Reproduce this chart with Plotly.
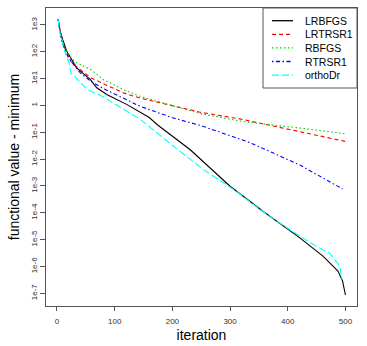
import plotly.graph_objects as go

# iteration / functional value - minimum
lrbfgs_it = [2, 5, 10, 17, 34, 58, 69, 87, 120, 145, 160, 174, 231, 300, 357, 421, 461, 487, 495, 500]
lrbfgs_val = [1660, 631, 282, 105, 25.1, 9.12, 4.57, 2.51, 1.12, 0.525, 0.355, 0.191, 0.0224,
              9.77e-4, 1.15e-4, 1.17e-5, 2.45e-6, 6.76e-7, 2.88e-7, 8.71e-8]

lrtrsr1_it = [2, 10, 24, 40, 59, 116, 145, 231, 248, 317, 334, 421, 500]
lrtrsr1_val = [1585, 200, 43.7, 21.9, 10.5, 2.88, 1.86, 0.692, 0.562, 0.316, 0.263, 0.107, 0.0457]

rbfgs_it = [2, 8, 15, 22, 30, 59, 80, 116, 145, 231, 248, 317, 334, 421, 498]
rbfgs_val = [1660, 316, 126, 70.8, 43.7, 21.4, 9.33, 3.80, 2.14, 0.603, 0.501, 0.263, 0.234, 0.145, 0.0891]

rtrsr1_it = [2, 8, 20, 40, 59, 83, 145, 202, 248, 317, 334, 357, 421, 495]
rtrsr1_val = [1585, 251, 58.9, 16.6, 7.76, 3.98, 0.912, 0.339, 0.182, 0.0562, 0.0417, 0.0251, 6.03e-3, 7.76e-4]

orthodr_it = [2, 5, 9, 15, 21, 24, 30, 52, 80, 145, 202, 254, 311, 352, 403, 449, 472, 490, 494]
orthodr_val = [1585, 501, 245, 79.4, 39.8, 15.8, 12.6, 3.98, 2.09, 0.295, 0.0302, 4.07e-3, 6.31e-4,
               1.32e-4, 2.40e-5, 5.75e-6, 3.24e-6, 1.05e-6, 3.31e-7]

# R line types: solid, dashed, dotted, dotdash, longdash
series = [
    ("LRBFGS", lrbfgs_it, lrbfgs_val, "black", "solid"),
    ("LRTRSR1", lrtrsr1_it, lrtrsr1_val, "#FF0000", "4px,3px"),
    ("RBFGS", rbfgs_it, rbfgs_val, "#00CD00", "1.5px,2.5px"),
    ("RTRSR1", rtrsr1_it, rtrsr1_val, "#0000FF", "1.5px,2.5px,4px,2.5px"),
    ("orthoDr", orthodr_it, orthodr_val, "#00FFFF", "7px,3px"),
]

ytick_vals = [1e3, 1e2, 1e1, 1, 1e-1, 1e-2, 1e-3, 1e-4, 1e-5, 1e-6, 1e-7]
ytick_text = ["1e3", "1e2", "1e1", "1", "1e-1", "1e-2", "1e-3", "1e-4", "1e-5", "1e-6", "1e-7"]
xtick_vals = [0, 100, 200, 300, 400, 500]

W, H = 367, 346
L, R, T, B = 46, 10, 8, 40
pw, ph = W - L - R, H - T - B

def px(x):   # pixel -> paper x
    return (x - L) / pw

def py(y):   # pixel -> paper y
    return (H - B - y) / ph

fig = go.Figure()
for name, it, val, col, dash in series:
    fig.add_trace(go.Scatter(x=it, y=val, mode="lines", name=name, showlegend=False,
                             line=dict(color=col, width=1.1, dash=dash)))

# legend drawn by hand, R style (compact box in the top right corner)
fig.add_shape(type="rect", xref="paper", yref="paper",
              x0=px(263), x1=1, y0=py(88), y1=1,
              line=dict(color="#555", width=1), fillcolor="white", layer="above")
for i, (name, it, val, col, dash) in enumerate(series):
    yy = py(20.7 + 13.6 * i)
    fig.add_shape(type="line", xref="paper", yref="paper",
                  x0=px(272), x1=px(293), y0=yy, y1=yy, layer="above",
                  line=dict(color=col, width=1.3, dash=dash))
    fig.add_annotation(x=px(303), y=yy, xref="paper", yref="paper", text=name,
                       showarrow=False, xanchor="left", yanchor="middle",
                       font=dict(size=10.5, color="black"))

axis_font = dict(family="Liberation Sans, Arial", size=8, color="#333")
fig.update_layout(
    width=W, height=H,
    margin=dict(l=L, r=R, t=T, b=B),
    plot_bgcolor="white", paper_bgcolor="white",
    font=dict(family="Liberation Sans, Arial", color="black"),
    showlegend=False,
    xaxis=dict(range=[-19, 520], tickvals=xtick_vals, ticks="outside", ticklen=4,
               tickcolor="#555", showline=True, linecolor="#555", mirror=True,
               showgrid=False, zeroline=False, tickfont=axis_font, automargin=False,
               ticklabelstandoff=3,
               title=dict(text="iteration", font=dict(size=14), standoff=5)),
    yaxis=dict(type="log", range=[-7.47, 3.63], tickvals=ytick_vals, ticktext=ytick_text,
               tickangle=-90, ticks="outside", ticklen=5, tickcolor="#555",
               showline=True, linecolor="#555", mirror=True,
               showgrid=False, zeroline=False, tickfont=axis_font, automargin=False,
               title=dict(text="functional value - minimum", font=dict(size=14), standoff=6)),
)

# drop the browser's default body margin so the figure sits at the page corner
fig.write_html("out.html", config={"displayModeBar": False},
               post_script="document.body.style.margin='0';")
